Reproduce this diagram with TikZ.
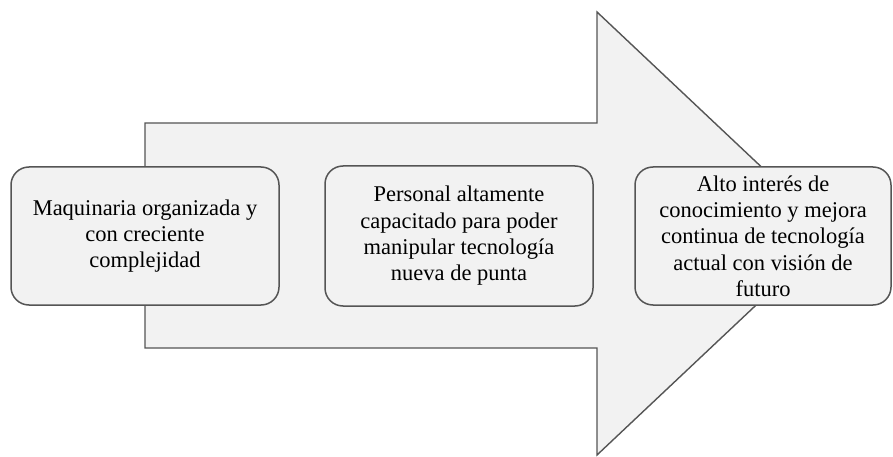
\documentclass[tikz,border=0pt]{standalone}
\usepackage{fontspec}
\setmainfont{Liberation Serif}
\definecolor{shapefill}{HTML}{F2F2F2}
\definecolor{shapeline}{HTML}{555555}
\begin{document}
\begin{tikzpicture}[x=1pt,y=-1pt,
  stagebox/.style={draw=shapeline, line width=1.5pt, fill=shapefill, rounded corners=18pt,
    align=center, inner sep=0pt, font=\fontsize{22.5}{26.3}\selectfont},
  bigarrow/.style={draw=shapeline, line width=1.4pt, fill=shapefill, line join=miter}]
\useasboundingbox (0,0) rectangle (893,457);
\coordinate (a1) at (145,123);
\coordinate (a2) at (597,123);
\coordinate (a3) at (597,12);
\coordinate (a4) at (832,233.5);
\coordinate (a5) at (597,455);
\coordinate (a6) at (597,348);
\coordinate (a7) at (145,348);
\draw[bigarrow] (a1) -- (a2) -- (a3) -- (a4) -- (a5) -- (a6) -- (a7) -- cycle;
\node[stagebox, minimum width=268pt, minimum height=138pt] (b1) at (145,236)
  {Maquinaria organizada y\\con creciente\\complejidad};
\node[stagebox, minimum width=268pt, minimum height=140pt] (b2) at (459,236)
  {Personal altamente\\capacitado para poder\\manipular tecnología\\nueva de punta};
\node[stagebox, minimum width=256pt, minimum height=138pt] (b3) at (763,236)
  {Alto interés de\\conocimiento y mejora\\continua de tecnología\\actual con visión de\\futuro};
\end{tikzpicture}
\end{document}
